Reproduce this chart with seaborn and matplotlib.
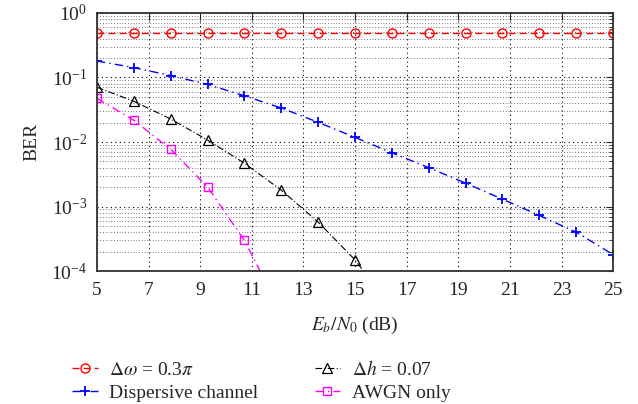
import numpy as np
import pandas as pd
import matplotlib
matplotlib.use("Agg")
import matplotlib.pyplot as plt
import seaborn as sns

# Datos
ebn0 = [5.0, 6.43, 7.86, 9.29, 10.71, 12.14, 13.57, 15.0,
        16.43, 17.86, 19.29, 20.71, 22.14, 23.57, 25.0]
ber_dw = [0.49] * 15
ber_disp = [0.18, 0.142, 0.107, 0.078, 0.052, 0.0337, 0.0202, 0.0118,
            0.0068, 0.0040, 0.0023, 0.0013, 7.3e-4, 4.0e-4, 1.8e-4]
ebn0_dh = ebn0[:9]
ber_dh = [0.0705, 0.0427, 0.0227, 0.0107, 0.0047, 0.0018, 5.75e-4, 1.49e-4, 2.6e-5]
ebn0_awgn = ebn0[:6]
ber_awgn = [0.0475, 0.0217, 0.0077, 0.0020, 3.0e-4, 2.3e-5]

labels = [r"$\Delta\omega$ = 0.3$\pi$", "Dispersive channel",
          r"$\Delta h$ = 0.07", "AWGN only"]

sns.set_style("white")
plt.rcParams['font.family'] = ['Liberation Serif', 'DejaVu Serif']
plt.rcParams['mathtext.fontset'] = 'stix'

fig = plt.figure(figsize=(6.38, 4.04), dpi=100)
ax = fig.add_axes([0.152, 0.329, 0.809, 0.639])

sns.lineplot(x=ebn0, y=ber_dw, ax=ax, color='red', linestyle=(0, (5, 3)), lw=1.0,
             marker='o', ms=6.5, mfc='none', mec='red', mew=1.0, label=labels[0])
sns.lineplot(x=ebn0, y=ber_disp, ax=ax, color='blue', linestyle=(0, (6, 3, 1, 3)), lw=1.0,
             marker='+', ms=7, mec='blue', mew=1.3, label=labels[1])
sns.lineplot(x=ebn0_dh, y=ber_dh, ax=ax, color='black', linestyle=(0, (6, 2, 1, 2)), lw=0.8,
             marker='^', ms=6.5, mfc='none', mec='black', mew=0.9, label=labels[2])
sns.lineplot(x=ebn0_awgn, y=ber_awgn, ax=ax, color='magenta', linestyle=(0, (6, 3, 1, 3)), lw=1.0,
             marker='s', ms=5.5, mfc='none', mec='magenta', mew=1.0, label=labels[3])

ax.set_yscale('log')
ax.set_ylim(1e-4, 1)
ax.set_xlim(5, 25)
ax.set_xticks(np.arange(5, 26, 2))
ax.xaxis.set_minor_locator(matplotlib.ticker.NullLocator())

ax.grid(True, which='major', linestyle=(0, (1, 3)), color='black', linewidth=0.8)
ax.grid(True, which='minor', axis='y', linestyle=(0, (1, 3)), color='black', linewidth=0.5)
ax.tick_params(which='both', direction='in', top=True, right=True, labelsize=14)
ax.tick_params(axis='x', pad=8)
ax.tick_params(axis='y', pad=7)
ax.tick_params(which='major', length=5)
ax.tick_params(which='minor', length=3)
for s in ax.spines.values():
    s.set_linewidth(1.3)
    s.set_color('#333333')

ax.set_ylabel("BER", fontsize=14, labelpad=8)
ax.set_xlabel(r"$E_b/N_0$ (dB)", fontsize=14, labelpad=11)

ax.legend(loc='upper left', bbox_to_anchor=(-0.063, -0.313), ncol=2, frameon=False,
          fontsize=14, handlelength=1.3, handletextpad=0.6, columnspacing=2.9,
          labelspacing=0.3, borderaxespad=0)

plt.savefig("out.png", dpi=100)
